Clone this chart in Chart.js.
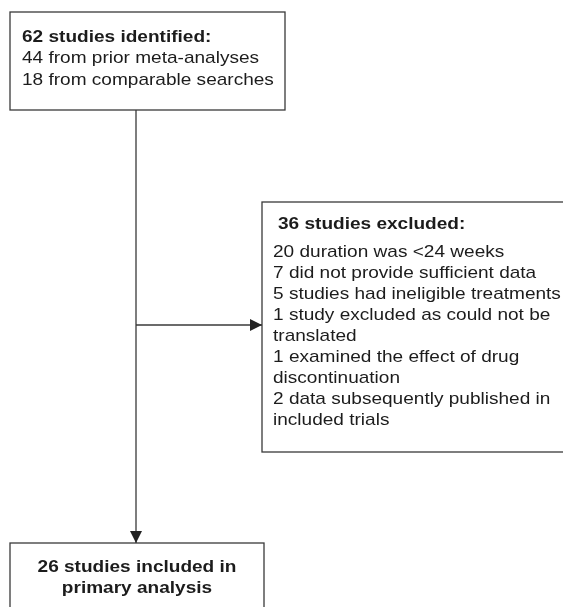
<!DOCTYPE html>
<html>
<head>
<meta charset="utf-8">
<script src="https://cdn.jsdelivr.net/npm/chart.js@4/dist/chart.umd.min.js"></script>
<style>
  html, body { margin: 0; padding: 0; background: #fff; }
  #flow { display: block; }
</style>
</head>
<body>
<canvas id="flow" width="563" height="607"></canvas>
<script>
// ---- flow content ----
const identifiedLines = [
  "62 studies identified:",
  "44 from prior meta-analyses",
  "18 from comparable searches"
];
const excludedLines = [
  "36 studies excluded:",
  "20 duration was <24 weeks",
  "7 did not provide sufficient data",
  "5 studies had ineligible treatments",
  "1 study excluded as could not be",
  "translated",
  "1 examined the effect of drug",
  "discontinuation",
  "2 data subsequently published in",
  "included trials"
];
const includedLines = [
  "26 studies included in",
  "primary analysis"
];

// ---- layout (in axis units, 1 unit = 1 px) ----
const FONT = "Liberation Sans, Arial, sans-serif";
const FONT_SIZE = 17;
const STRETCH = 1.12;   // source text is a bit wider than Arial
const INK = "#1c1c1c";
const EDGE = "#3a3a3a";

const boxes = {
  identified: { x0: 10, y0: 12, x1: 285, y1: 110, textX: 22, firstY: 37, lineH: 21.5, align: "left" },
  excluded:   { x0: 262, y0: 202, x1: 575, y1: 452, textX: 273, titleX: 278, firstY: 224.5, titleGap: 28, lineH: 21, align: "left" },
  included:   { x0: 10, y0: 543, x1: 264, y1: 625, textX: 137, firstY: 567, lineH: 21, align: "center", allBold: true }
};
const trunkX = 136;
const branchY = 325;

// connector segments built from the box layout
const trunk = [
  { x: trunkX, y: boxes.identified.y1 },
  { x: trunkX, y: boxes.included.y0 }
];
const branch = [
  { x: trunkX, y: branchY },
  { x: boxes.excluded.x0, y: branchY }
];

// ==============================
// PLUGIN: boxes, text, arrowheads
// ==============================
const flowPlugin = {
  id: "flowBoxes",
  beforeDatasetsDraw(chart) {
    const { ctx, scales } = chart;
    const px = (v) => scales.x.getPixelForValue(v);
    const py = (v) => scales.y.getPixelForValue(v);

    ctx.save();
    ctx.strokeStyle = EDGE;
    ctx.lineWidth = 1.3;
    Object.values(boxes).forEach((b) => {
      ctx.strokeRect(px(b.x0), py(b.y0), px(b.x1) - px(b.x0), py(b.y1) - py(b.y0));
    });
    ctx.restore();
  },
  afterDatasetsDraw(chart) {
    const { ctx, scales } = chart;
    const px = (v) => scales.x.getPixelForValue(v);
    const py = (v) => scales.y.getPixelForValue(v);

    ctx.save();
    ctx.fillStyle = INK;
    ctx.textBaseline = "middle";

    const drawBlock = (lines, b) => {
      ctx.textAlign = b.align;
      lines.forEach((txt, i) => {
        const bold = i === 0 || b.allBold;
        ctx.font = (bold ? "bold " : "") + FONT_SIZE + "px " + FONT;
        let y = b.firstY + i * b.lineH;
        if (i > 0 && b.titleGap) y = b.firstY + b.titleGap + (i - 1) * b.lineH;
        const x = i === 0 && b.titleX ? b.titleX : b.textX;
        ctx.save();
        ctx.translate(px(x), py(y));
        ctx.scale(STRETCH, 1);
        ctx.fillText(txt, 0, 0);
        ctx.restore();
      });
    };
    drawBlock(identifiedLines, boxes.identified);
    drawBlock(excludedLines, boxes.excluded);
    drawBlock(includedLines, boxes.included);

    // arrowheads at the end of each connector
    ctx.fillStyle = "#222";
    const head = (from, to) => {
      const x1 = px(to.x), y1 = py(to.y);
      const ang = Math.atan2(y1 - py(from.y), x1 - px(from.x));
      const len = 12, half = 6;
      ctx.beginPath();
      ctx.moveTo(x1, y1);
      ctx.lineTo(x1 - len * Math.cos(ang) + half * Math.sin(ang), y1 - len * Math.sin(ang) - half * Math.cos(ang));
      ctx.lineTo(x1 - len * Math.cos(ang) - half * Math.sin(ang), y1 - len * Math.sin(ang) + half * Math.cos(ang));
      ctx.closePath();
      ctx.fill();
    };
    head(trunk[0], trunk[1]);
    head(branch[0], branch[1]);
    ctx.restore();
  }
};

new Chart(document.getElementById("flow"), {
  type: "scatter",
  data: {
    datasets: [
      { data: trunk, showLine: true, borderColor: EDGE, borderWidth: 1.3, pointRadius: 0 },
      { data: branch, showLine: true, borderColor: EDGE, borderWidth: 1.3, pointRadius: 0 }
    ]
  },
  options: {
    responsive: false,
    animation: false,
    layout: { padding: 0 },
    scales: {
      x: { type: "linear", min: 0, max: 563, display: false },
      y: { type: "linear", min: 0, max: 607, reverse: true, display: false }
    },
    plugins: {
      legend: { display: false },
      tooltip: { enabled: false }
    }
  },
  plugins: [flowPlugin]
});
</script>
</body>
</html>
